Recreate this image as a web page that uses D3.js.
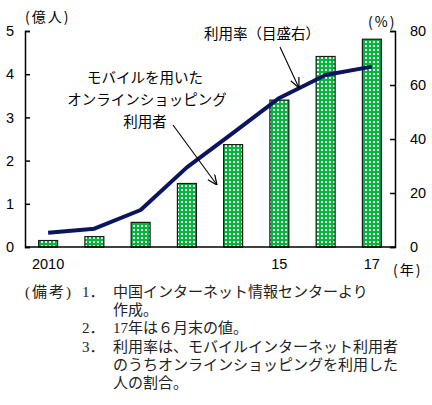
<!DOCTYPE html>
<html>
<head>
<meta charset="utf-8">
<script src="https://cdn.jsdelivr.net/npm/d3@7"></script>
<style>
    body { margin: 0; background: #fff; }
    svg { display: block; }
</style>
</head>
<body>
<script>
const width = 432,
    height = 405;

// data
const years = ['2010', '2011', '2012', '2013', '2014', '2015', '2016', '2017'];
const yearLabels = ['2010', '', '', '', '', '15', '', '17'];
const users = [0.15, 0.24, 0.57, 1.47, 2.37, 3.40, 4.41, 4.81];     // 億人
const rate = [5.3, 6.8, 13.7, 29.5, 42.3, 55.2, 63.7, 66.8];        // %
const leftTicks = [0, 1, 2, 3, 4, 5];
const rightTicks = [0, 20, 40, 60, 80];
const notes = [
    ['(備考)', '1．', '中国インターネット情報センターより'],
    ['', '', '作成。'],
    ['', '2．', '17年は６月末の値。'],
    ['', '3．', '利用率は、モバイルインターネット利用者'],
    ['', '', 'のうちオンラインショッピングを利用した'],
    ['', '', '人の割合。']
];

const plot = {left: 25, right: 395, top: 31, bottom: 247};
const numFont = '"Liberation Sans", Arial, sans-serif';
const jpFont = '"Noto Sans CJK JP", sans-serif';

const svg = d3.select('body')
    .append('svg')
    .attr('width', width)
    .attr('height', height);

const x = d3.scaleBand()
    .domain(years)
    .range([plot.left, plot.right])
    .paddingInner(0.59)
    .paddingOuter(0.295);

const yLeft = d3.scaleLinear().domain([0, 5]).range([plot.bottom, plot.top]);
const yRight = d3.scaleLinear().domain([0, 80]).range([plot.bottom, plot.top]);

// dotted green fill
const pat = svg.append('defs').append('pattern')
    .attr('id', 'dots')
    .attr('patternUnits', 'userSpaceOnUse')
    .attr('width', 4)
    .attr('height', 4);
pat.append('rect').attr('width', 4).attr('height', 4).attr('fill', '#00b83a');
pat.append('rect').attr('x', 1).attr('y', 1).attr('width', 2).attr('height', 2).attr('fill', '#ffffff');

// bars
svg.append('g')
    .selectAll('rect')
    .data(years)
    .enter().append('rect')
    .attr('x', d => x(d))
    .attr('width', x.bandwidth())
    .attr('y', (d, i) => yLeft(users[i]))
    .attr('height', (d, i) => yLeft(0) - yLeft(users[i]))
    .attr('fill', 'url(#dots)')
    .attr('stroke', '#1a1a1a')
    .attr('stroke-width', 1.2);

// rate line
const line = d3.line()
    .x((d, i) => x(years[i]) + x.bandwidth() / 2)
    .y(d => yRight(d));

svg.append('path')
    .datum(rate)
    .attr('d', line)
    .attr('fill', 'none')
    .attr('stroke', '#0a1560')
    .attr('stroke-width', 4)
    .attr('stroke-linejoin', 'round');

// axes
const leftAxis = svg.append('g')
    .attr('transform', 'translate(' + plot.left + ',0)')
    .call(d3.axisLeft(yLeft).tickValues(leftTicks).tickSize(-5).tickPadding(11).tickFormat(d3.format('d')));

const rightAxis = svg.append('g')
    .attr('transform', 'translate(' + plot.right + ',0)')
    .call(d3.axisRight(yRight).tickValues(rightTicks).tickSize(-5).tickPadding(15).tickFormat(d3.format('d')));

[leftAxis, rightAxis].forEach(function (g) {
    g.select('.domain').attr('stroke', '#000').attr('stroke-width', 1.5);
    g.selectAll('.tick line').attr('stroke', '#000').attr('stroke-width', 1.5);
    g.selectAll('.tick text')
        .attr('fill', '#000')
        .style('font-family', numFont)
        .style('font-size', '14.5px');
});

svg.append('line')
    .attr('x1', plot.left)
    .attr('x2', plot.right)
    .attr('y1', plot.bottom)
    .attr('y2', plot.bottom)
    .attr('stroke', '#000')
    .attr('stroke-width', 1.5);

svg.append('g')
    .selectAll('text')
    .data(years)
    .enter().append('text')
    .attr('x', d => x(d) + x.bandwidth() / 2)
    .attr('y', 269)
    .attr('text-anchor', 'middle')
    .style('font-family', numFont)
    .style('font-size', '14.5px')
    .text((d, i) => yearLabels[i]);

// unit labels
function label(txt, px, py, anchor, size, spacing) {
    return svg.append('text')
        .attr('x', px)
        .attr('y', py)
        .attr('text-anchor', anchor || 'start')
        .style('font-family', jpFont)
        .style('font-size', (size || 14) + 'px')
        .style('letter-spacing', (spacing || 0) + 'px')
        .text(txt);
}

label('(億人)', 25, 22, 'start', 14, 2);
label('(%)', 368, 27, 'start', 14, 2);
label('(年)', 393, 275, 'start', 14, 2);

// annotations
label('利用率（目盛右）', 262, 39, 'middle', 14.5);
label('モバイルを用いた', 145, 83, 'middle', 14.5);
label('オンラインショッピング', 147, 105, 'middle', 14.5);
label('利用者', 145, 127, 'middle', 14.5);

svg.append('defs').append('marker')
    .attr('id', 'arrowhead')
    .attr('viewBox', '0 -5 10 10')
    .attr('refX', 10)
    .attr('refY', 0)
    .attr('orient', 'auto')
    .attr('markerWidth', 10)
    .attr('markerHeight', 10)
    .attr('markerUnits', 'userSpaceOnUse')
    .append('path')
    .attr('d', 'M0,-4.5 L10,0 L0,4.5')
    .attr('fill', 'none')
    .attr('stroke', '#000')
    .attr('stroke-width', 1.2);

const arrows = [
    [280, 47, 299, 88],
    [173, 125, 217, 185]
];
svg.append('g')
    .selectAll('line')
    .data(arrows)
    .enter().append('line')
    .attr('x1', d => d[0])
    .attr('y1', d => d[1])
    .attr('x2', d => d[2])
    .attr('y2', d => d[3])
    .attr('stroke', '#000')
    .attr('stroke-width', 1.1)
    .attr('marker-end', 'url(#arrowhead)');

// notes
const noteFont = '"Liberation Serif", "Noto Sans CJK JP", serif';
const noteRows = svg.append('g')
    .selectAll('g')
    .data(notes)
    .enter().append('g')
    .attr('transform', (d, i) => 'translate(0,' + (297 + i * 18.2) + ')');

noteRows.append('text').attr('x', 25).style('letter-spacing', '2px').text(d => d[0]);
noteRows.append('text').attr('x', 82).text(d => d[1]);
noteRows.append('text').attr('x', 113).text(d => d[2]);
noteRows.selectAll('text')
    .style('font-family', noteFont)
    .style('font-size', '15px')
    .attr('fill', '#222');
</script>
</body>
</html>
